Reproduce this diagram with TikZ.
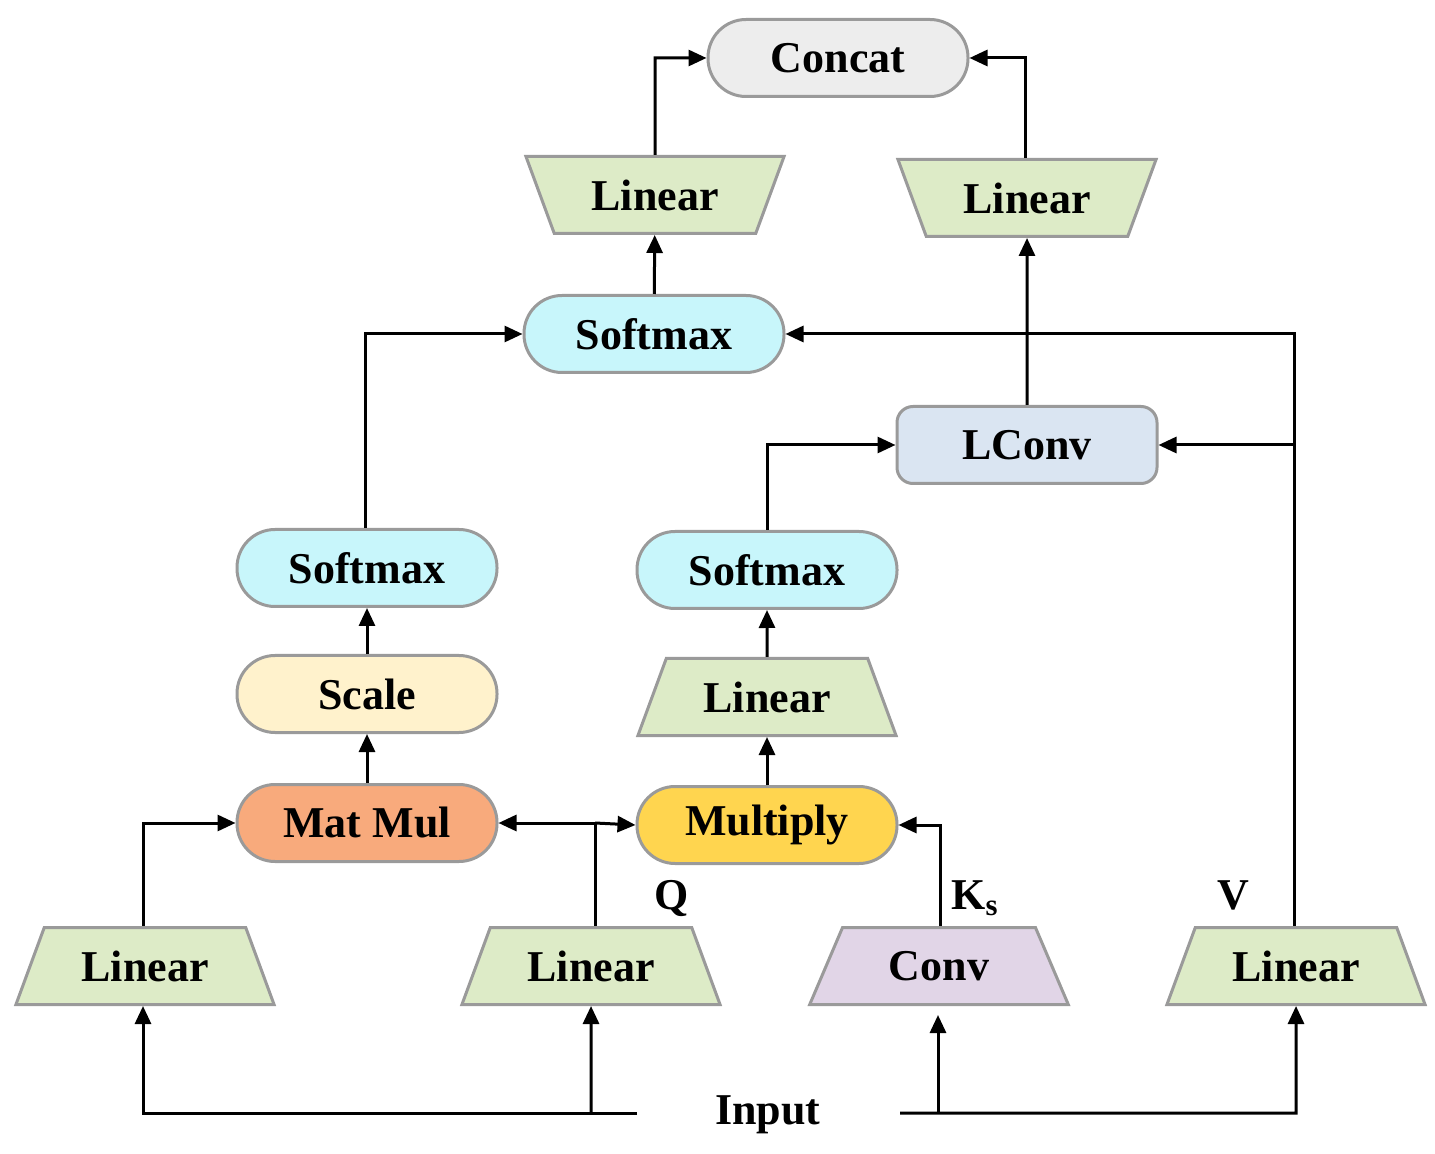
\documentclass[tikz,border=0pt]{standalone}
\usepackage{fontspec}
\setmainfont{Liberation Serif}
\usetikzlibrary{shapes.geometric,arrows.meta}
\definecolor{bd}{HTML}{9A9A9A}
\definecolor{cgray}{HTML}{EDEDED}
\definecolor{ccyan}{HTML}{C8F6FB}
\definecolor{cblue}{HTML}{DAE5F2}
\definecolor{cyel}{HTML}{FFF2CC}
\definecolor{cgreen}{HTML}{DDEBC7}
\definecolor{corange}{HTML}{F8AA7C}
\definecolor{cgold}{HTML}{FFD54F}
\definecolor{cpurp}{HTML}{E1D5E7}
\begin{document}
\begin{tikzpicture}[x=0.5pt,y=-0.5pt,
  every node/.style={font=\fontsize{22}{24}\selectfont\bfseries},
  pill/.style={draw=bd,line width=1.5pt,rounded corners=19pt,minimum width=130pt,minimum height=38.5pt,inner sep=0pt},
  box/.style={pill,rounded corners=8pt},
  trap/.style={draw=bd,line width=1.5pt,fill=cgreen,trapezium,trapezium stretches=true,trapezium angle=60,minimum width=130pt,minimum height=38.5pt,inner sep=0pt},
  itrap/.style={trap,shape border rotate=180},
  ar/.style={line width=1.5pt,-{Triangle[length=9pt,width=8pt]}},
  ln/.style={line width=1.5pt}]
\useasboundingbox (0,0) rectangle (1435,1154);
\node[pill,fill=cgray] (concat) at (838,58) {Concat};
\node[itrap] (ltl) at (655,195) {Linear};
\node[itrap] (ltr) at (1027,198) {Linear};
\node[pill,fill=ccyan] (smt) at (654,334) {Softmax};
\node[box,fill=cblue] (lconv) at (1027,445) {LConv};
\node[pill,fill=ccyan] (sml) at (367,568) {Softmax};
\node[pill,fill=ccyan] (smm) at (767,570) {Softmax};
\node[pill,fill=cyel] (scale) at (367,694) {Scale};
\node[trap] (lm) at (767,697) {Linear};
\node[pill,fill=corange] (mm) at (367,823) {Mat Mul};
\node[pill,fill=cgold] (mul) at (767,825) {Multiply};
\node[trap] (lb1) at (145,966) {Linear};
\node[trap] (lb2) at (591,966) {Linear};
\node[trap,fill=cpurp] (conv) at (939,966) {Conv};
\node[trap] (lb3) at (1296,966) {Linear};
\node (input) at (768,1115) {Input};
\node (q) at (672,898) {Q};
\node (ks) at (975,898) {K\textsubscript{s}};
\node (v) at (1233,895) {V};
\coordinate (il) at (637,1113);
\coordinate (ir) at (900,1113);
% input lines
\draw[ar] (il) -- (143,1113) -- (lb1.south -| 143,0);
\draw[ar] (591,1113) -- (lb2.south);
\draw[ar] (ir) -- (1296,1113) -- (lb3.south);
\draw[ar] (938,1113) -- (938,1015);
% lower part
\draw[ar] (lb1.north -| 143,0) -- (143,823) -- (mm.west);
\draw[ln] (lb2.north -| 595,0) -- (595,823);
\draw[ar] (595,823) -- (mm.east);
\draw[ar] (595,823) -- (mul.west);
\draw[ar] (conv.north -| 940,0) -- (940,825) -- (mul.east);
\draw[ar] (lb3.north -| 1294,0) -- (1294,334) -- (smt.east);
\draw[ar] (1294,0 |- lconv.east) -- (lconv.east);
\draw[ar] (mm) -- (scale);
\draw[ar] (scale) -- (sml);
\draw[ar] (sml.north -| 365,0) -- (365,334) -- (smt.west);
\draw[ar] (mul) -- (lm);
\draw[ar] (lm) -- (smm);
\draw[ar] (smm.north) -- (767,0 |- lconv.west) -- (lconv.west);
\draw[ar] (lconv) -- (ltr);
\draw[ar] (smt) -- (ltl);
\draw[ar] (ltl.north) -- (655,58) -- (concat.west);
\draw[ar] (ltr.north -| 1025,0) -- (1025,58) -- (concat.east);
\end{tikzpicture}
\end{document}
